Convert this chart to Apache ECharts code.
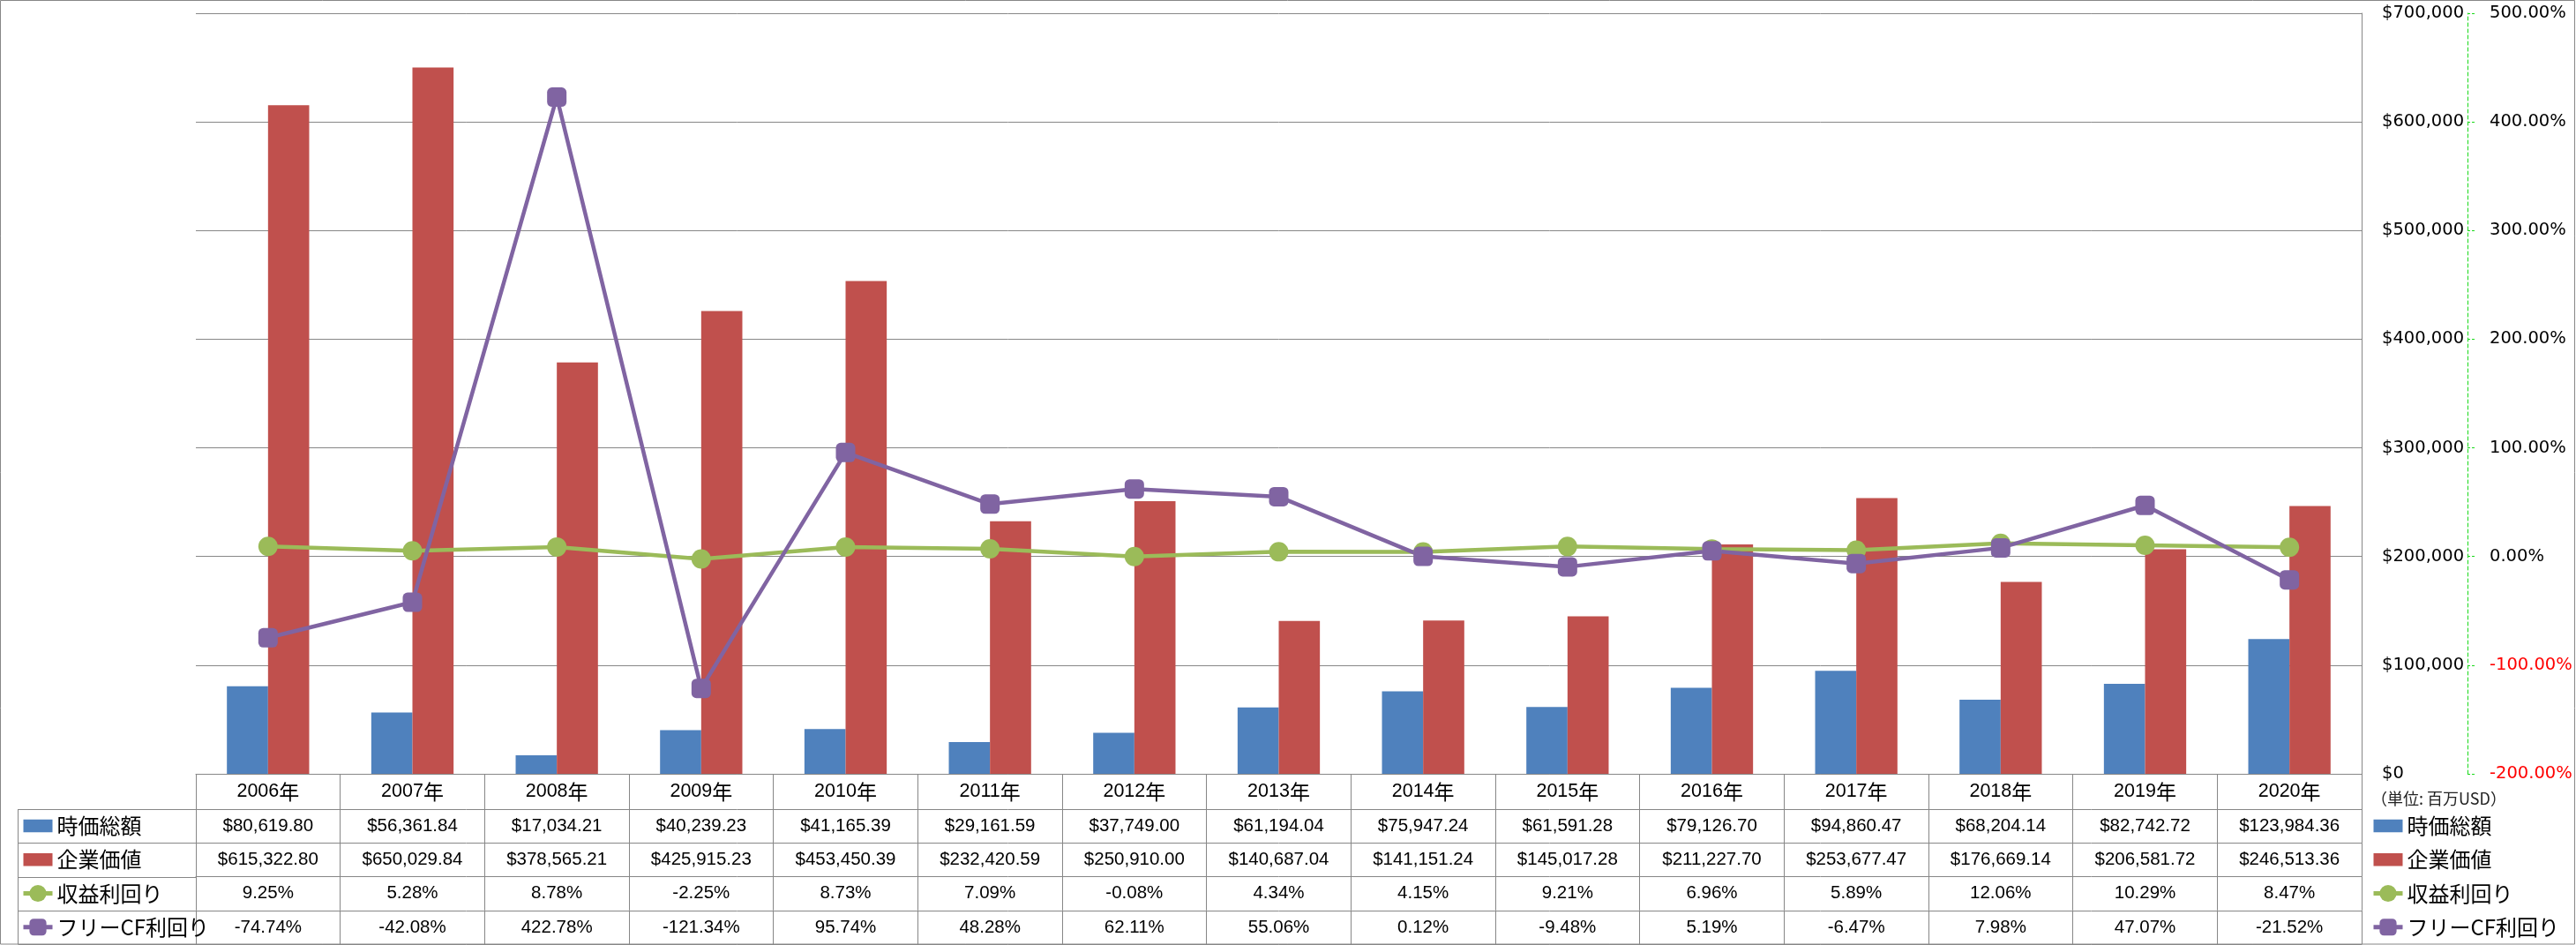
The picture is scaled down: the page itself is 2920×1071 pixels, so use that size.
<!DOCTYPE html>
<html><head><meta charset="utf-8">
<script src="https://cdn.jsdelivr.net/npm/echarts@6/dist/echarts.min.js"></script>
<style>html,body{margin:0;padding:0;background:#fff}#c{width:2920px;height:1071px}</style>
</head><body><div id="c"></div>
<script>
// ---- data ----
const years = ['2006','2007','2008','2009','2010','2011','2012','2013','2014','2015','2016','2017','2018','2019','2020'];
const marketCap = [80619.80, 56361.84, 17034.21, 40239.23, 41165.39, 29161.59, 37749.00, 61194.04, 75947.24, 61591.28, 79126.70, 94860.47, 68204.14, 82742.72, 123984.36];
const enterpriseValue = [615322.80, 650029.84, 378565.21, 425915.23, 453450.39, 232420.59, 250910.00, 140687.04, 141151.24, 145017.28, 211227.70, 253677.47, 176669.14, 206581.72, 246513.36];
const earningsYield = [9.25, 5.28, 8.78, -2.25, 8.73, 7.09, -0.08, 4.34, 4.15, 9.21, 6.96, 5.89, 12.06, 10.29, 8.47];
const fcfYield = [-74.74, -42.08, 422.78, -121.34, 95.74, 48.28, 62.11, 55.06, 0.12, -9.48, 5.19, -6.47, 7.98, 47.07, -21.52];
const seriesNames = ['時価総額', '企業価値', '収益利回り', 'フリーCF利回り'];
const yearSuffix = '年';
const unitLabel = '（単位: 百万USD）';

// ---- style / layout ----
const GRAY = '#878787';
const BLUE = '#4f81bd', RED = '#c0504d', GREEN = '#9bbb59', PURPLE = '#8064a2';
const AXIS_GREEN = '#19d919';
const TOP = 15, BOTTOM = 877, LEFT = 222, RIGHT = 2677;
const rowEdges = [877, 917, 955.25, 993.5, 1031.75, 1070];

const money2 = v => '$' + v.toLocaleString('en-US', {minimumFractionDigits: 2, maximumFractionDigits: 2});
const pct2 = v => v.toFixed(2) + '%';
const rowValues = [marketCap.map(money2), enterpriseValue.map(money2), earningsYield.map(pct2), fcfYield.map(pct2)];

function tableAxis(i) {
  const top = rowEdges[i];
  const last = i === rowEdges.length - 1;
  const h = last ? 0 : rowEdges[i + 1] - top;
  const ax = {
    type: 'category', gridIndex: 0, position: 'bottom', offset: top - BOTTOM,
    data: years, boundaryGap: true,
    axisLine: {show: true, onZero: false, lineStyle: {color: GRAY, width: 1}},
    axisTick: {show: !last, length: h, interval: 0, alignWithLabel: false, lineStyle: {color: GRAY, width: 1}},
    splitLine: {show: false},
    axisLabel: {show: !last, interval: 0, margin: h / 2, verticalAlign: 'middle', color: '#000',
      fontFamily: 'Liberation Sans', fontSize: 20.5},
    axisPointer: {show: false}
  };
  if (i === 0) {
    ax.axisLabel.formatter = v => '{d|' + v + '}{k|' + yearSuffix + '}';
    ax.axisLabel.rich = {
      d: {fontFamily: 'Liberation Sans', fontSize: 21.5, color: '#000'},
      k: {fontFamily: 'Noto Sans CJK JP', fontSize: 23, color: '#000'}
    };
  } else if (!last) {
    const vals = rowValues[i - 1];
    ax.axisLabel.formatter = (v, idx) => vals[idx];
  }
  return ax;
}

const barIcon = 'path://M0,0H32V14H0Z';
const legendData = [
  {name: seriesNames[0], icon: barIcon},
  {name: seriesNames[1], icon: barIcon},
  {name: seriesNames[2]},
  {name: seriesNames[3]}
];
function legendAt(x) {
  return {
    orient: 'vertical', left: x, top: 924, padding: 0,
    itemWidth: 33, itemHeight: 24, itemGap: 14.25, selectedMode: false,
    lineStyle: {width: 5},
    textStyle: {fontFamily: 'Noto Sans CJK JP', fontSize: 24, color: '#000'},
    data: legendData
  };
}

const chart = echarts.init(document.getElementById('c'), null, {renderer: 'canvas'});
const option = {
  animation: false,
  backgroundColor: '#fff',
  grid: {left: LEFT, right: 2920 - RIGHT, top: TOP, bottom: 1071 - BOTTOM, containLabel: false},
  legend: [legendAt(24), legendAt(2688)],
  xAxis: rowEdges.map((_, i) => tableAxis(i)),
  yAxis: [
    {
      type: 'value', position: 'right', min: 0, max: 700000, interval: 100000,
      axisLine: {show: true, lineStyle: {color: GRAY, width: 1}},
      axisTick: {show: false},
      splitLine: {show: true, lineStyle: {color: GRAY, width: 1}},
      axisLabel: {margin: 23, color: '#000', fontFamily: 'DejaVu Sans', fontSize: 19.5,
        formatter: v => '$' + v.toLocaleString('en-US')}
    },
    {
      type: 'value', position: 'right', offset: 120, min: -200, max: 500, interval: 100,
      axisLine: {show: true, lineStyle: {color: AXIS_GREEN, width: 1, type: [4, 3]}},
      axisTick: {show: true, length: 8, lineStyle: {color: AXIS_GREEN, width: 1, type: [3, 2]}},
      splitLine: {show: false},
      axisLabel: {margin: 25, fontFamily: 'DejaVu Sans', fontSize: 19.5,
        color: v => (Number(v) < 0 ? '#ff0000' : '#000'),
        formatter: v => v.toFixed(2) + '%'}
    }
  ],
  series: [
    {name: seriesNames[0], type: 'bar', data: marketCap, itemStyle: {color: BLUE},
      barGap: '0%', barCategoryGap: '43%'},
    {name: seriesNames[1], type: 'bar', data: enterpriseValue, itemStyle: {color: RED},
      barGap: '0%', barCategoryGap: '43%'},
    {name: seriesNames[2], type: 'line', yAxisIndex: 1, data: earningsYield,
      symbol: 'circle', symbolSize: 22, showAllSymbol: true,
      itemStyle: {color: GREEN}, lineStyle: {color: GREEN, width: 4.5}},
    {name: seriesNames[3], type: 'line', yAxisIndex: 1, data: fcfYield,
      symbol: 'roundRect', symbolSize: 22, showAllSymbol: true,
      itemStyle: {color: PURPLE}, lineStyle: {color: PURPLE, width: 4.5}}
  ],
  graphic: [
    {type: 'rect', silent: true, z: 100, shape: {x: 0.5, y: 0.5, width: 2918, height: 1069.5},
      style: {fill: null, stroke: GRAY, lineWidth: 1}},
    ...rowEdges.slice(1).map(y => ({type: 'line', silent: true, z: 100,
      shape: {x1: 20.5, y1: Math.round(y) + 0.5, x2: LEFT, y2: Math.round(y) + 0.5},
      style: {stroke: GRAY, lineWidth: 1}})),
    {type: 'line', silent: true, z: 100, shape: {x1: 20.5, y1: 917, x2: 20.5, y2: 1070},
      style: {stroke: GRAY, lineWidth: 1}},
    {type: 'text', silent: true, x: 2688, y: 905,
      style: {text: unitLabel, fontFamily: 'Noto Sans CJK JP', fontSize: 18, fill: '#222', verticalAlign: 'middle'}}
  ]
};
chart.setOption(option);
</script>
</body></html>
